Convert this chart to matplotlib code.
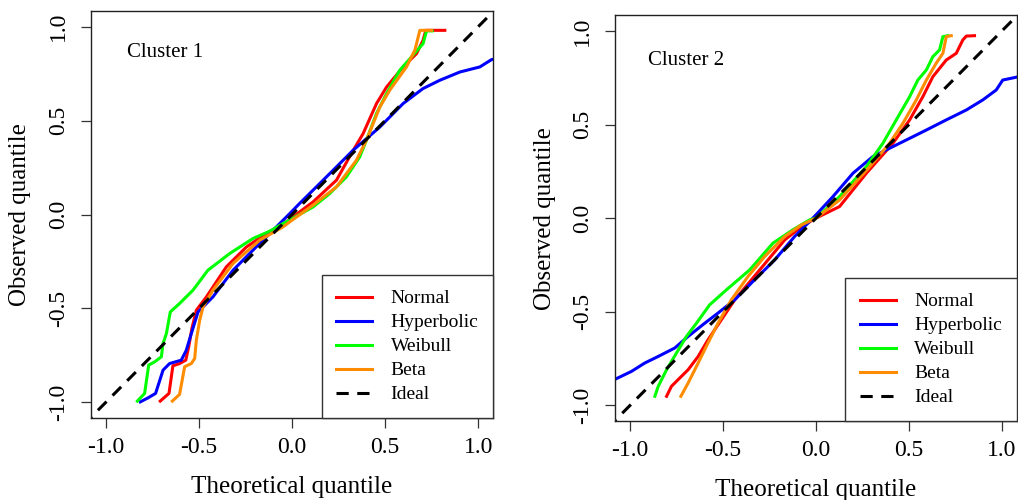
import numpy as np
import matplotlib.pyplot as plt

plt.rcParams['font.family'] = ['Liberation Serif', 'DejaVu Serif']
plt.rcParams['axes.unicode_minus'] = False

# Cluster 1 quantile curves (theoretical, observed)
c1_normal_x = [-0.708, -0.661, -0.640, -0.604, -0.571, -0.555, -0.538, -0.514, -0.460, -0.353, -0.245,
               -0.138, -0.048, 0.005, 0.113, 0.239, 0.319, 0.382, 0.454, 0.508, 0.597, 0.669, 0.704,
               0.719, 0.821]
c1_normal_y = [-0.994, -0.953, -0.806, -0.794, -0.776, -0.705, -0.607, -0.510, -0.439, -0.279, -0.173,
               -0.101, -0.052, -0.013, 0.067, 0.183, 0.325, 0.431, 0.591, 0.679, 0.786, 0.857, 0.928,
               0.981, 0.981]
c1_hyper_x = [-0.815, -0.774, -0.733, -0.693, -0.658, -0.595, -0.568, -0.541, -0.505, -0.425, -0.317,
              -0.210, -0.102, -0.012, 0.041, 0.203, 0.328, 0.472, 0.597, 0.704, 0.794, 0.902, 1.009,
              1.072, 1.100]
c1_hyper_y = [-0.998, -0.977, -0.953, -0.829, -0.794, -0.776, -0.723, -0.634, -0.519, -0.439, -0.297,
              -0.190, -0.084, 0.005, 0.059, 0.218, 0.342, 0.466, 0.591, 0.671, 0.715, 0.759, 0.786,
              0.825, 0.830]
c1_weib_x = [-0.831, -0.792, -0.770, -0.738, -0.702, -0.693, -0.675, -0.654, -0.604, -0.532, -0.452,
             -0.335, -0.210, -0.120, -0.048, -0.030, 0.113, 0.203, 0.292, 0.364, 0.400, 0.454, 0.508,
             0.579, 0.704, 0.723, 0.753]
c1_weib_y = [-0.994, -0.953, -0.802, -0.785, -0.758, -0.687, -0.634, -0.519, -0.474, -0.403, -0.297,
             -0.208, -0.128, -0.089, -0.048, -0.039, 0.040, 0.112, 0.200, 0.307, 0.396, 0.538, 0.644,
             0.768, 0.910, 0.978, 0.978]
c1_beta_x = [-0.643, -0.604, -0.577, -0.541, -0.523, -0.514, -0.496, -0.478, -0.425, -0.317, -0.174,
             -0.048, -0.012, 0.113, 0.239, 0.346, 0.400, 0.472, 0.525, 0.615, 0.660, 0.687, 0.749]
c1_beta_y = [-0.994, -0.958, -0.811, -0.794, -0.767, -0.669, -0.563, -0.492, -0.403, -0.261, -0.137,
             -0.066, -0.039, 0.050, 0.147, 0.289, 0.396, 0.573, 0.662, 0.786, 0.875, 0.981, 0.981]

# Cluster 2 quantile curves (theoretical, observed)
c2_normal_x = [-0.804, -0.778, -0.742, -0.688, -0.634, -0.581, -0.509, -0.437, -0.347, -0.258, -0.168,
               -0.078, 0.000, 0.127, 0.271, 0.414, 0.504, 0.575, 0.629, 0.701, 0.755, 0.790, 0.809, 0.853]
c2_normal_y = [-0.952, -0.899, -0.863, -0.810, -0.739, -0.650, -0.543, -0.436, -0.329, -0.223, -0.116,
               -0.045, 0.000, 0.062, 0.240, 0.400, 0.525, 0.649, 0.756, 0.845, 0.881, 0.952, 0.973, 0.975]
c2_hyper_x = [-1.100, -0.993, -0.921, -0.849, -0.760, -0.688, -0.598, -0.527, -0.437, -0.330, -0.222,
              -0.115, -0.007, 0.091, 0.199, 0.306, 0.450, 0.594, 0.701, 0.809, 0.898, 0.970, 1.005, 1.077]
c2_hyper_y = [-0.870, -0.819, -0.774, -0.739, -0.694, -0.632, -0.561, -0.507, -0.436, -0.329, -0.223,
              -0.098, 0.010, 0.115, 0.240, 0.329, 0.400, 0.471, 0.525, 0.578, 0.632, 0.685, 0.738, 0.753]
c2_weib_x = [-0.867, -0.849, -0.804, -0.751, -0.697, -0.643, -0.572, -0.482, -0.356, -0.231, -0.124,
             -0.034, 0.000, 0.127, 0.271, 0.360, 0.432, 0.504, 0.548, 0.594, 0.629, 0.665, 0.683, 0.710]
c2_weib_y = [-0.952, -0.899, -0.810, -0.721, -0.632, -0.561, -0.463, -0.383, -0.276, -0.133, -0.062,
             -0.009, 0.000, 0.115, 0.275, 0.400, 0.525, 0.649, 0.738, 0.792, 0.863, 0.899, 0.970, 0.975]
c2_beta_x = [-0.727, -0.688, -0.634, -0.581, -0.527, -0.455, -0.366, -0.276, -0.168, -0.078, 0.000,
             0.127, 0.289, 0.396, 0.468, 0.540, 0.594, 0.647, 0.683, 0.701, 0.728]
c2_beta_y = [-0.952, -0.881, -0.774, -0.667, -0.561, -0.436, -0.312, -0.205, -0.098, -0.036, 0.000,
             0.097, 0.275, 0.400, 0.507, 0.632, 0.738, 0.828, 0.881, 0.970, 0.975]

names = ['Normal', 'Hyperbolic', 'Weibull', 'Beta']
colors = ['#FF0000', '#0000FF', '#00FF00', '#FF8C00']
ideal = [-1.2, 1.2]
ticks = [-1.0, -0.5, 0.0, 0.5, 1.0]

panels = [
    ('Cluster 1', [(c1_normal_x, c1_normal_y), (c1_hyper_x, c1_hyper_y),
                   (c1_weib_x, c1_weib_y), (c1_beta_x, c1_beta_y)],
     [0.0894, 0.164, 0.3949, 0.814], (-0.889, 0.864)),
    ('Cluster 2', [(c2_normal_x, c2_normal_y), (c2_hyper_x, c2_hyper_y),
                   (c2_weib_x, c2_weib_y), (c2_beta_x, c2_beta_y)],
     [0.6044, 0.158, 0.3943, 0.8114], (-0.903, 0.845)),
]

fig = plt.figure(figsize=(10.18, 5.0), dpi=100)

for title, curves, rect, txt in panels:
    ax = fig.add_axes(rect)
    for (x, y), name, col in zip(curves, names, colors):
        ax.plot(x, y, color=col, lw=2.2, label=name, solid_joinstyle='round')
    ax.plot(ideal, ideal, color='black', lw=2.2, ls=(0, (4, 2.8)), label='Ideal')

    ax.set_xlim(-1.08, 1.08)
    ax.set_ylim(-1.084, 1.084)
    ax.set_xticks(ticks)
    ax.set_yticks(ticks)
    ax.set_xticklabels([f'{t:.1f}' for t in ticks])
    ax.set_yticklabels([f'{t:.1f}' for t in ticks], rotation=90, va='center')
    ax.tick_params(length=7, width=0.9, color='#333333', labelsize=17, pad=7)
    ax.tick_params(axis='y', pad=9)
    for s in ax.spines.values():
        s.set_color('#222222')
        s.set_linewidth(1.0)

    ax.set_xlabel('Theoretical quantile', fontsize=18, va='center')
    ax.xaxis.set_label_coords(0.5, -0.17)
    ax.set_ylabel('Observed quantile', fontsize=18, va='center')
    ax.yaxis.set_label_coords(-0.176, 0.5)

    ax.text(txt[0], txt[1], title, fontsize=15, ha='left', va='center')

    leg = ax.legend(loc='lower right', fontsize=14, frameon=True, fancybox=False,
                    edgecolor='#333333', framealpha=1, borderaxespad=0,
                    borderpad=0.75, handlelength=1.85, handletextpad=0.95,
                    labelspacing=0.33)
    leg.get_frame().set_linewidth(1.0)

fig.savefig('out.png', dpi=100)
